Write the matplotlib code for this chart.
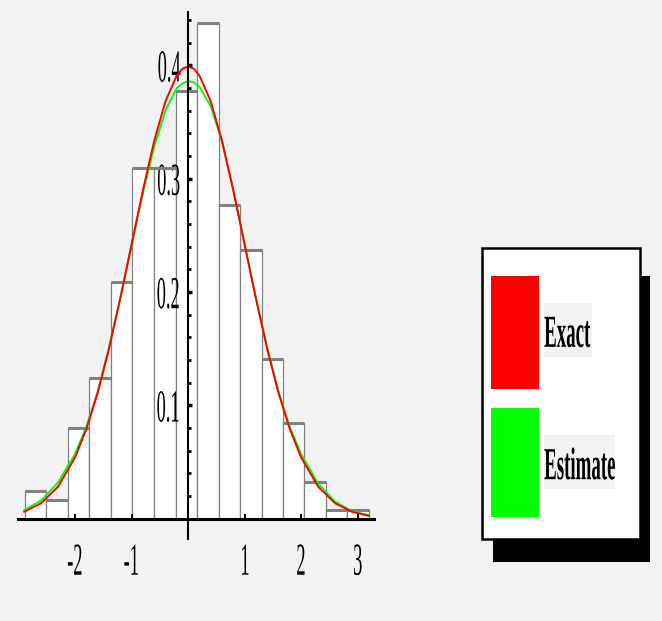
import matplotlib.pyplot as plt
import numpy as np
from matplotlib.patches import Rectangle
from matplotlib.patheffects import AbstractPathEffect
from matplotlib.ticker import MultipleLocator
from matplotlib.transforms import Affine2D

# histogram (density)
bin_edges = [-2.89, -2.51, -2.13, -1.75, -1.37, -0.99, -0.60, -0.22, 0.16,
             0.54, 0.92, 1.30, 1.68, 2.06, 2.44, 2.82, 3.20]
densities = [0.024, 0.016, 0.080, 0.124, 0.209, 0.309, 0.309, 0.377,
             0.437, 0.277, 0.237, 0.141, 0.084, 0.032, 0.008, 0.008]

# the two density curves
curve_x = [-2.9, -2.6, -2.3, -2.0, -1.8, -1.6, -1.4, -1.2, -1.0, -0.8, -0.6, -0.4,
           -0.2, -0.1, 0.0, 0.1, 0.2, 0.4, 0.6, 0.8, 1.0, 1.2, 1.4, 1.6, 1.8, 2.0,
           2.3, 2.6, 2.9, 3.2]
exact_y = [0.0060, 0.0136, 0.0283, 0.0540, 0.0790, 0.1109, 0.1497, 0.1942, 0.2420,
           0.2897, 0.3332, 0.3683, 0.3910, 0.3970, 0.3989, 0.3970, 0.3910, 0.3683,
           0.3332, 0.2897, 0.2420, 0.1942, 0.1497, 0.1109, 0.0790, 0.0540, 0.0283,
           0.0136, 0.0060, 0.0024]
estimate_y = [0.0075, 0.016, 0.032, 0.057, 0.081, 0.112, 0.151, 0.195, 0.241,
              0.287, 0.328, 0.360, 0.380, 0.384, 0.386, 0.385, 0.381, 0.364,
              0.333, 0.290, 0.242, 0.195, 0.151, 0.112, 0.081, 0.057, 0.031,
              0.015, 0.0065, 0.003]

x_ticks = [-2, -1, 1, 2, 3]
y_ticks = [0.1, 0.2, 0.3, 0.4]
legend_labels = ["Exact", "Estimate"]
legend_colors = ["#ff0000", "#00ff00"]

W, H = 662, 621


class Squash(AbstractPathEffect):
    """Narrow (and stretch) the glyphs, like the condensed font of the original."""

    def __init__(self, sx=0.4, sy=1.0, anchor="center"):
        super().__init__()
        self.sx = sx
        self.sy = sy
        self.anchor = anchor

    def draw_path(self, renderer, gc, tpath, affine, rgbFace=None):
        ext = tpath.get_extents(affine)
        x0 = {"left": ext.x0, "right": ext.x1}.get(self.anchor, (ext.x0 + ext.x1) / 2)
        y0 = (ext.y0 + ext.y1) / 2
        squash = affine + Affine2D().translate(-x0, -y0).scale(self.sx, self.sy) \
            .translate(x0, y0)
        renderer.draw_path(gc, tpath, squash, rgbFace)


def px_rect(fig, x0, y0, x1, y1, **kw):
    # rectangle given in pixel coords of the picture (y down)
    r = Rectangle((x0 / W, 1 - y1 / H), (x1 - x0) / W, (y1 - y0) / H,
                  transform=fig.transFigure, **kw)
    fig.add_artist(r)


def main():
    plt.rcParams["font.family"] = ["Liberation Serif", "DejaVu Serif"]

    fig = plt.figure(figsize=(W / 100, H / 100), dpi=100, facecolor="#f2f2f2")
    ax = fig.add_axes([18 / W, 1 - 539 / H, 356 / W, 527 / H])
    ax.set_facecolor("none")
    ax.set_xlim(-3.01, 3.29)
    ax.set_ylim(-0.018, 0.447)

    lefts = bin_edges[:-1]
    ax.bar(lefts, densities, width=np.diff(bin_edges), align="edge",
           color="white", edgecolor="#808080", linewidth=0.9, zorder=1)
    ax.hlines(densities, lefts, bin_edges[1:], color="#808080", lw=2.2, zorder=2)

    ax.plot(curve_x, estimate_y, color="#00ff00", lw=1.4, zorder=3)
    ax.plot(curve_x, exact_y, color="#ff0000", lw=1.4, zorder=3)

    for side in ["top", "right"]:
        ax.spines[side].set_visible(False)
    ax.spines["left"].set_position(("data", 0))
    ax.spines["bottom"].set_position(("data", 0))
    ax.spines["left"].set_linewidth(1.5)
    ax.spines["bottom"].set_linewidth(2.2)
    ax.spines["left"].set_zorder(4)
    ax.spines["bottom"].set_zorder(4)

    ax.set_xticks(x_ticks, labels=[str(t) for t in x_ticks])
    ax.set_yticks(y_ticks, labels=[f"{t:.1f}" for t in y_ticks])
    ax.yaxis.set_minor_locator(MultipleLocator(0.02))
    ax.tick_params(axis="x", direction="in", length=3.6, width=1.4,
                   labelsize=33, pad=17)
    ax.tick_params(axis="y", which="major", direction="in", length=3, width=2.5,
                   labelsize=33, pad=5)
    ax.tick_params(axis="y", which="minor", direction="in", length=2, width=2)

    for t in ax.get_xticklabels():
        t.set_path_effects([Squash(0.4, 1.0, "center")])
    for t in ax.get_yticklabels():
        t.set_path_effects([Squash(0.4, 1.0, "right")])

    # legend box with drop shadow
    px_rect(fig, 493, 276, 650, 562, facecolor="black", edgecolor="none")
    px_rect(fig, 482, 248, 640, 539, facecolor="white", edgecolor="black", lw=1.8)
    swatches = [(276, 389), (408, 517)]
    label_boxes = [(544, 303, 592, 357), (544, 435, 615, 489)]
    baselines = [341, 473]
    for lab, col, (s0, s1), box, base in zip(legend_labels, legend_colors,
                                             swatches, label_boxes, baselines):
        px_rect(fig, 491, s0, 539, s1, facecolor=col, edgecolor="none")
        px_rect(fig, *box, facecolor="#f2f2f2", edgecolor="none")
        fig.text(544 / W, 1 - base / H, lab, ha="left", va="baseline",
                 fontsize=20, fontweight="bold",
                 path_effects=[Squash(0.68, 1.65, "left")])

    fig.savefig("out.png", dpi=100, facecolor=fig.get_facecolor())


if __name__ == "__main__":
    main()
